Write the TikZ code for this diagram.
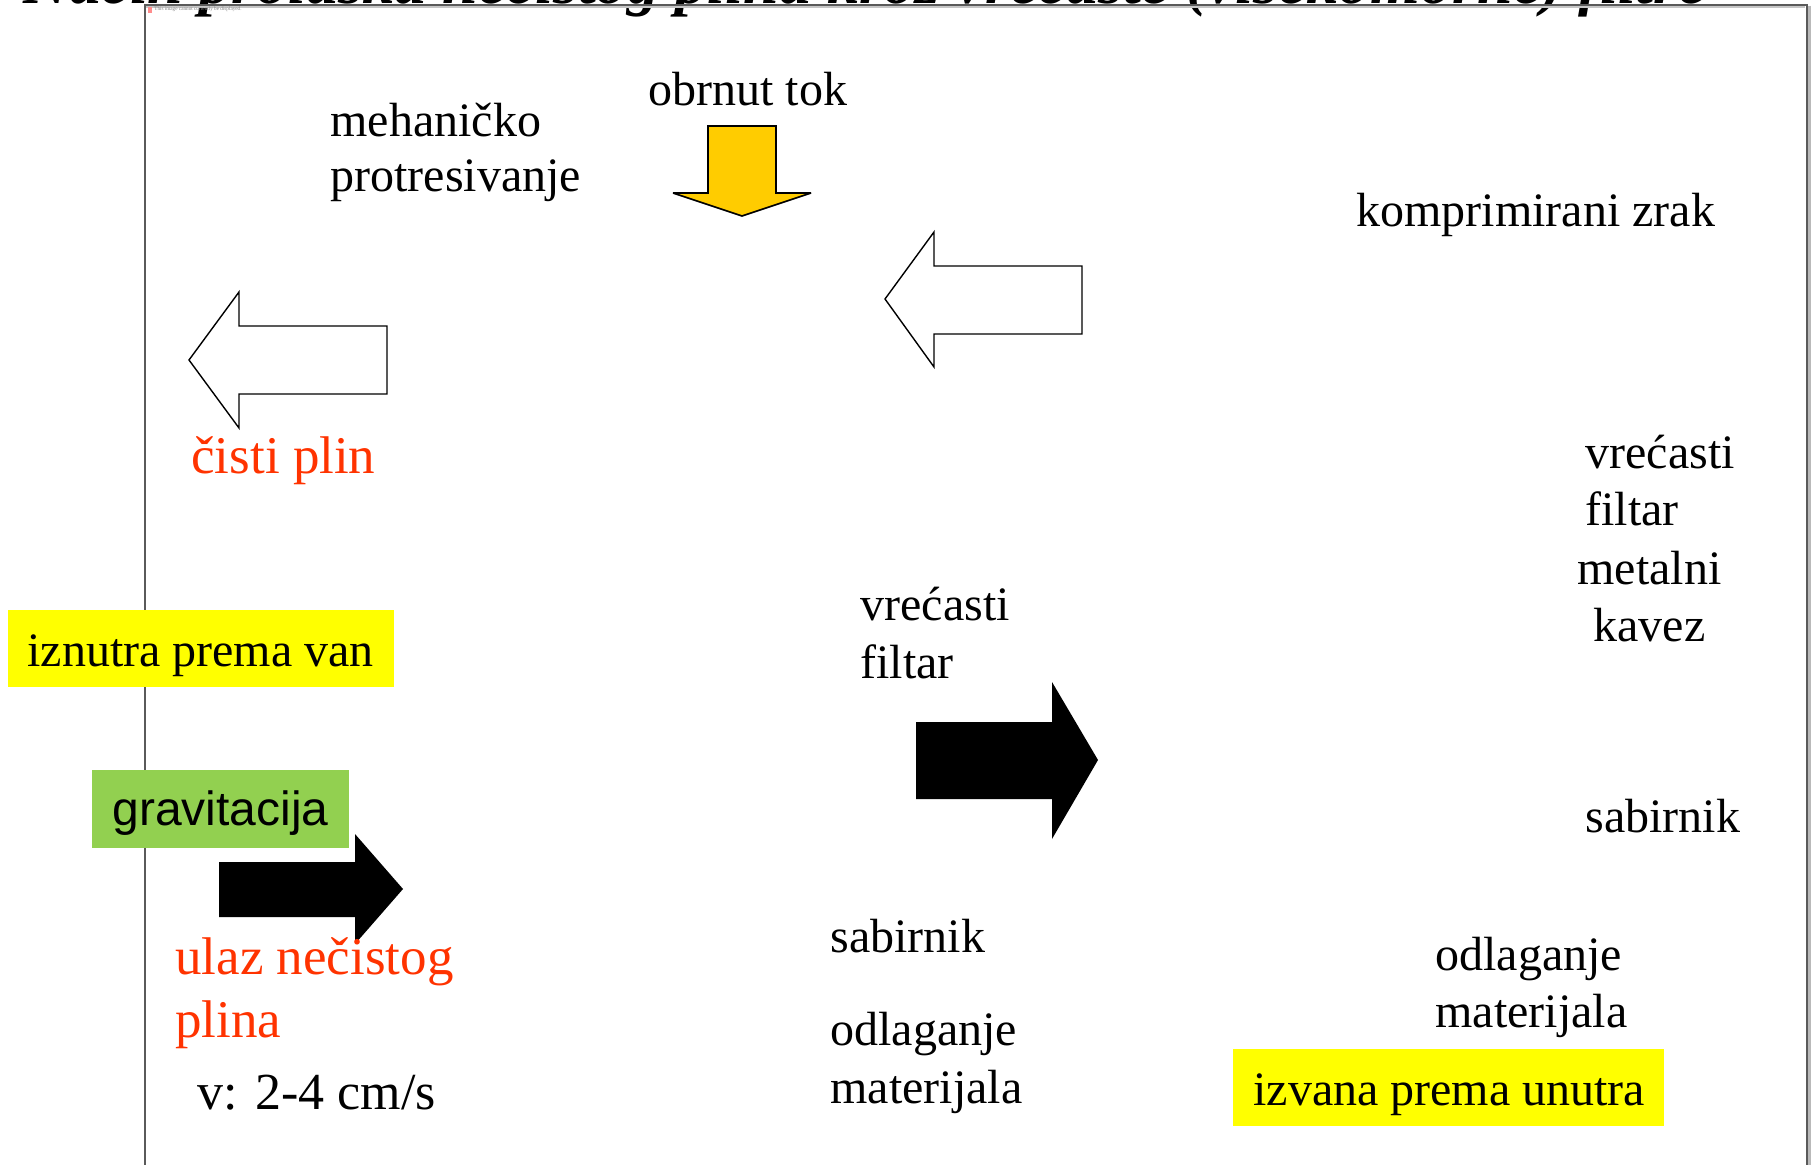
\documentclass[tikz,border=0pt]{standalone}
\usepackage{fontspec}
\setmainfont{Liberation Serif}
\newfontfamily\arialfont{Liberation Sans}
\definecolor{redtxt}{HTML}{FF3300}
\definecolor{hiyellow}{HTML}{FFFF00}
\definecolor{higreen}{HTML}{92D050}
\definecolor{arrowyellow}{HTML}{FFCC00}
\definecolor{framegray}{HTML}{5A5A5A}
\begin{document}
\begin{tikzpicture}[x=0.5pt,y=-0.5pt,
  txt/.style={inner sep=0pt, anchor=base west, font=\fontsize{24}{28}\selectfont},
  redtx/.style={txt, text=redtxt, font=\fontsize{26.5}{31}\selectfont},
  openarrow/.style={draw=black, fill=white, line width=0.7pt, line join=miter},
  solidarrow/.style={fill=black},
  yellowarrow/.style={draw=black, fill=arrowyellow, line width=0.8pt, line join=miter, miter limit=4}]
\clip (0,0) rectangle (1814,1165);
\fill[white] (0,0) rectangle (1814,1165);

% heading, partly above the page edge
\node[inner sep=0pt, anchor=base west, font=\fontsize{32}{38}\selectfont\bfseries\itshape]
  (title) at (23,4) {Način prolaska nečistog plina kroz vrećaste (višekomorne) filtre};

% slide frame
\draw[gray!45, line width=1pt] (146,7.5) -- (1805,7.5);
\draw[gray!55, line width=1.2pt] (1809.5,6) -- (1809.5,1165);
\draw[framegray, line width=0.8pt] (145,1165) -- (145,5) -- (1807,5) -- (1807,1165);

% missing picture placeholder
\fill[red!45] (148,7) rectangle (152,13);
\node[inner sep=0pt, anchor=base west, font=\fontsize{2.6}{3}\selectfont, text=gray] (ph) at (154,11)
  {This image cannot currently be displayed.};

% highlighted labels
\fill[hiyellow] (8,610) rectangle (394,687);
\fill[higreen] (92,770) rectangle (349,848);
\fill[hiyellow] (1233,1049) rectangle (1664,1126);

% arrows
\draw[yellowarrow] (708,126) -- (776,126) -- (776,193) -- (811,193) -- (742,216)
  -- (673,193) -- (708,193) -- cycle;
\draw[openarrow] (1082,266) -- (934,266) -- (934,232) -- (885,299) -- (934,367)
  -- (934,334) -- (1082,334) -- cycle;
\draw[openarrow] (387,326) -- (239,326) -- (239,292) -- (189,360) -- (239,428)
  -- (239,394) -- (387,394) -- cycle;
\fill[solidarrow] (916,722) -- (1052,722) -- (1052,682) -- (1098,760) -- (1052,839)
  -- (1052,799) -- (916,799) -- cycle;
\fill[solidarrow] (219,862) -- (355,862) -- (355,834) -- (403,889) -- (355,944)
  -- (355,917) -- (219,917) -- cycle;

% texts
\node[txt] (obrnut) at (648,106) {obrnut tok};
\node[txt] (meh1) at (330,137) {mehaničko};
\node[txt] (meh2) at (330,192) {protresivanje};
\node[txt] (komp) at (1356,227) {komprimirani zrak};
\node[redtx] (cisti) at (191,474) {čisti plin};

\node[txt] (vrR) at (1585,469) {vrećasti};
\node[txt] (fiR) at (1585,526) {filtar};
\node[txt] (meR) at (1577,584) {metalni};
\node[txt] (kaR) at (1593,641) {kavez};

\node[txt] (vrM) at (860,620) {vrećasti};
\node[txt] (fiM) at (860,678) {filtar};

\node[txt] (iznutra) at (27,666) {iznutra prema van};
\node[txt, font=\arialfont\fontsize{24}{28}\selectfont] (grav) at (112,825) {gravitacija};

\node[redtx] (ulaz1) at (175,974) {ulaz nečistog};
\node[redtx] (ulaz2) at (175,1037) {plina};
\node[txt, font=\fontsize{26}{30}\selectfont] (brzina) at (197,1109) {v: 2-4 cm/s};

\node[txt] (sabM) at (830,952) {sabirnik};
\node[txt] (odlM1) at (830,1045) {odlaganje};
\node[txt] (odlM2) at (830,1103) {materijala};

\node[txt] (sabR) at (1585,832) {sabirnik};
\node[txt] (odlR1) at (1435,970) {odlaganje};
\node[txt] (odlR2) at (1435,1027) {materijala};

\node[txt] (izvana) at (1253,1105) {izvana prema unutra};
\end{tikzpicture}
\end{document}
